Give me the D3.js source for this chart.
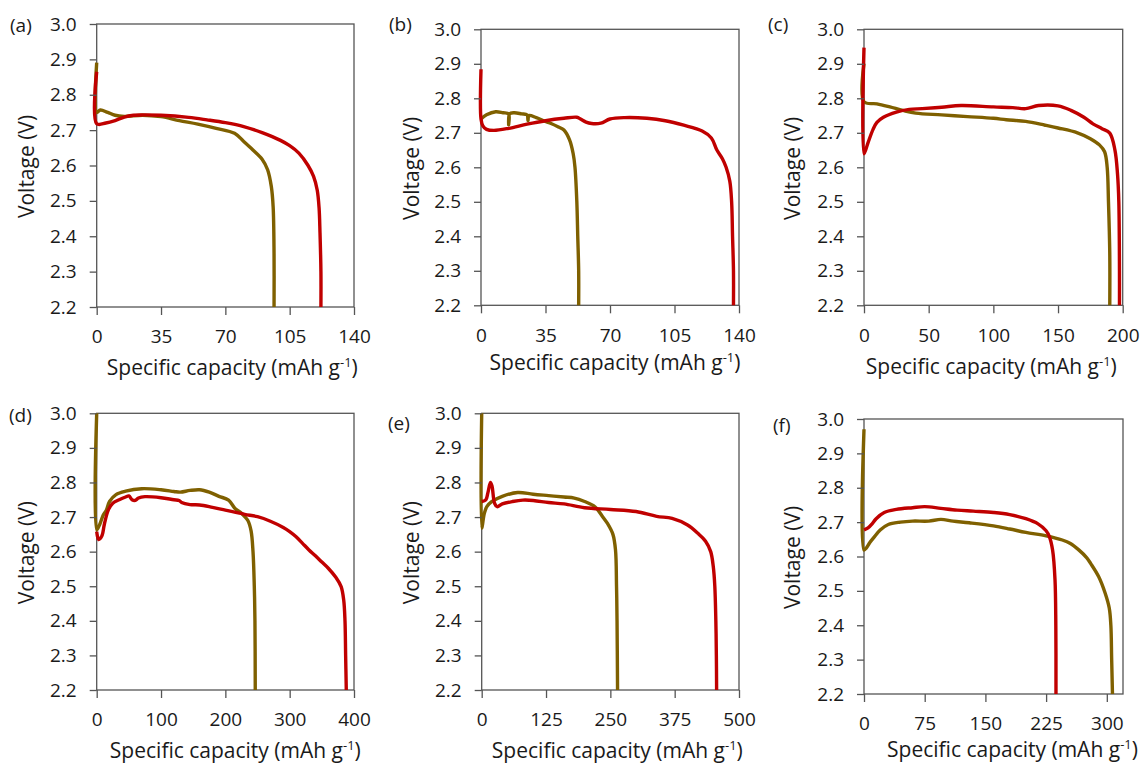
<!DOCTYPE html>
<html>
<head>
<meta charset="utf-8">
<script src="https://cdn.jsdelivr.net/npm/d3@7"></script>
<style>
  body { margin: 0; background: #fff; }
  text { font-family: "Open Sans", "Noto Sans", sans-serif; fill: #1a1a1a; }
</style>
</head>
<body>
<svg width="1143" height="764"></svg>
<script>
const svg = d3.select("svg");

const redColor = "#c00000";
const oliveColor = "#7f6000";

// voltage ticks shared by all panels
const voltTicks = [2.2, 2.3, 2.4, 2.5, 2.6, 2.7, 2.8, 2.9, 3.0];

// capacity ticks for each panel
const capTicksA = [0, 35, 70, 105, 140];
const capTicksB = [0, 35, 70, 105, 140];
const capTicksC = [0, 50, 100, 150, 200];
const capTicksD = [0, 100, 200, 300, 400];
const capTicksE = [0, 125, 250, 375, 500];
const capTicksF = [0, 75, 150, 225, 300];

// discharge curves, [capacity (mAh/g), voltage (V)]
const redA = [[0,2.865],[0,2.718],[5,2.72],[10,2.727],[15,2.737],[20,2.742],[25,2.743],[35,2.742],[50,2.736],[60,2.729],[70,2.721],[80,2.71],[90,2.693],[100,2.671],[105,2.656],[110,2.635],[115,2.60],[118,2.569],[120,2.53],[121,2.48],[121.5,2.41],[122,2.3],[122,2.2]];
const oliveA = [[0,2.891],[0,2.75],[2,2.757],[6,2.75],[10,2.742],[15,2.739],[25,2.742],[35,2.738],[45,2.727],[55,2.717],[65,2.705],[75,2.691],[80,2.668],[85,2.644],[90,2.618],[93,2.588],[95,2.541],[96,2.484],[96.5,2.35],[96.5,2.2]];

const redB = [[0,2.884],[0,2.74],[1,2.72],[3,2.71],[7,2.707],[15,2.713],[25,2.725],[35,2.735],[45,2.742],[52,2.745],[54,2.74],[57,2.731],[60,2.727],[65,2.728],[70,2.74],[78,2.744],[90,2.742],[100,2.735],[110,2.722],[120,2.705],[125,2.685],[128,2.65],[131,2.625],[133,2.6],[135,2.56],[136,2.5],[136.5,2.4],[137,2.3],[137,2.2]];
const oliveB = [[0,2.74],[3,2.752],[8,2.761],[12,2.758],[15,2.755],[15,2.723],[15.5,2.755],[18,2.758],[22,2.755],[25,2.752],[25.5,2.735],[26,2.75],[30,2.744],[35,2.733],[38,2.727],[42,2.717],[45,2.708],[48,2.68],[50,2.64],[51,2.6],[52,2.5],[52.5,2.4],[53,2.3],[53,2.2]];

const redC = [[0,2.947],[0,2.639],[3,2.67],[7,2.71],[10,2.73],[15,2.745],[25,2.76],[35,2.768],[45,2.77],[60,2.774],[75,2.779],[100,2.775],[115,2.773],[125,2.77],[135,2.779],[150,2.778],[160,2.765],[170,2.745],[177,2.726],[184,2.712],[190,2.699],[194,2.65],[196,2.58],[197,2.5],[197.5,2.3],[197.5,2.2]];
const oliveC = [[0,2.901],[0,2.79],[10,2.784],[20,2.775],[30,2.765],[40,2.757],[60,2.752],[80,2.747],[100,2.742],[110,2.738],[125,2.733],[140,2.722],[150,2.714],[165,2.7],[175,2.683],[182,2.665],[186,2.645],[188,2.6],[189,2.5],[190,2.35],[190,2.2]];

const redD = [[0,2.658],[3,2.635],[8,2.645],[12,2.68],[18,2.72],[25,2.74],[35,2.75],[45,2.758],[50,2.761],[55,2.75],[60,2.748],[65,2.755],[75,2.759],[100,2.756],[120,2.75],[128,2.748],[132,2.742],[145,2.736],[160,2.735],[180,2.728],[200,2.72],[230,2.708],[250,2.701],[270,2.688],[290,2.67],[300,2.658],[310,2.643],[320,2.624],[330,2.605],[340,2.588],[350,2.57],[360,2.552],[372,2.525],[380,2.499],[384,2.46],[386,2.4],[387,2.3],[388,2.2]];
const oliveD = [[0,3.0],[0,2.663],[5,2.68],[10,2.705],[15,2.72],[20,2.745],[30,2.765],[45,2.775],[70,2.782],[100,2.779],[120,2.774],[130,2.772],[145,2.777],[160,2.779],[175,2.772],[190,2.76],[205,2.749],[215,2.725],[225,2.711],[235,2.69],[240,2.66],[243,2.6],[245,2.5],[246,2.4],[246.5,2.2]];

const redE = [[0,2.745],[8,2.75],[12,2.77],[17,2.8],[20,2.79],[25,2.74],[30,2.73],[40,2.738],[60,2.745],[80,2.749],[100,2.748],[130,2.742],[160,2.738],[200,2.727],[250,2.722],[300,2.716],[340,2.702],[370,2.696],[400,2.677],[420,2.653],[435,2.63],[445,2.6],[450,2.557],[453,2.5],[455,2.4],[456,2.3],[456.5,2.2]];
const oliveE = [[0,3.0],[0,2.668],[5,2.71],[10,2.73],[20,2.745],[40,2.76],[70,2.771],[100,2.766],[130,2.762],[160,2.758],[180,2.755],[200,2.745],[220,2.73],[235,2.701],[245,2.68],[255,2.65],[260,2.605],[262,2.5],[263,2.4],[264,2.2]];

const redF = [[0,2.677],[5,2.683],[10,2.695],[15,2.71],[25,2.728],[40,2.737],[60,2.742],[75,2.745],[95,2.74],[115,2.735],[135,2.732],[160,2.728],[180,2.722],[200,2.71],[215,2.695],[225,2.675],[229,2.658],[233,2.619],[236,2.532],[237,2.4],[237.2,2.2]];
const oliveF = [[0,2.97],[0,2.619],[3,2.625],[7,2.64],[12,2.655],[20,2.677],[30,2.693],[45,2.7],[60,2.703],[80,2.703],[95,2.708],[110,2.703],[130,2.698],[160,2.689],[180,2.68],[200,2.67],[225,2.66],[245,2.648],[255,2.638],[265,2.62],[275,2.597],[280,2.58],[290,2.541],[298,2.493],[303,2.45],[305,2.4],[306,2.3],[307,2.2]];

// panel placement (plot box in page pixels)
const panels = [
  { tag: "(a)", ticks: capTicksA, xMax: 140, series: [oliveA, redA], box: [96.7, 24, 354, 307],   tagPos: [10, 25],   yTitleX: 27,  xTitleDx: 7,  xTitleDy: 68 },
  { tag: "(b)", ticks: capTicksB, xMax: 140, series: [oliveB, redB], box: [481, 29.3, 739, 305.3], tagPos: [389, 24],  yTitleX: 412, xTitleDx: 5,  xTitleDy: 65 },
  { tag: "(c)", ticks: capTicksC, xMax: 200, series: [oliveC, redC], box: [864, 29.3, 1122.7, 305.3], tagPos: [768, 24], yTitleX: 793, xTitleDx: -2, xTitleDy: 69 },
  { tag: "(d)", ticks: capTicksD, xMax: 400, series: [oliveD, redD], box: [96.7, 413.3, 354, 690], tagPos: [9, 415],  yTitleX: 27,  xTitleDx: 10, xTitleDy: 68 },
  { tag: "(e)", ticks: capTicksE, xMax: 500, series: [oliveE, redE], box: [481.7, 413.3, 739, 690], tagPos: [388, 423], yTitleX: 412, xTitleDx: 7,  xTitleDy: 68 },
  { tag: "(f)", ticks: capTicksF, xMax: 320, series: [oliveF, redF], box: [864, 419, 1123, 694],  tagPos: [773, 425], yTitleX: 793, xTitleDx: 19, xTitleDy: 63 }
];

const colors = [oliveColor, redColor];

drawPanel = p => {
  const [x0, y0, x1, y1] = p.box;
  const g = svg.append("g");

  const x = d3.scaleLinear().domain([0, p.xMax]).range([x0, x1]);
  const y = d3.scaleLinear().domain([2.2, 3.0]).range([y1, y0]);

  // frame
  g.append("rect")
    .attr("x", x0).attr("y", y0)
    .attr("width", x1 - x0).attr("height", y1 - y0)
    .attr("fill", "none")
    .attr("stroke", "#555")
    .attr("stroke-width", 1.3);

  // curves
  const line = d3.line()
    .x(d => x(d[0]))
    .y(d => y(d[1]))
    .curve(d3.curveCatmullRom.alpha(0.5));

  p.series.forEach((s, i) => {
    g.append("path")
      .datum(s)
      .attr("d", line)
      .attr("fill", "none")
      .attr("stroke", colors[i])
      .attr("stroke-width", 3.4)
      .attr("stroke-linejoin", "round");
  });

  // axes
  const yAxis = g.append("g")
    .attr("transform", `translate(${x0},0)`)
    .call(d3.axisLeft(y).tickValues(voltTicks).tickFormat(d3.format(".1f")).tickSize(7).tickPadding(13));
  const xAxis = g.append("g")
    .attr("transform", `translate(0,${y1})`)
    .call(d3.axisBottom(x).tickValues(p.ticks).tickSize(8).tickPadding(15));

  [yAxis, xAxis].forEach(a => {
    a.select(".domain").remove();
    a.selectAll("line").attr("stroke", "#555").attr("stroke-width", 1.3);
    a.selectAll("text")
      .style("font-family", '"Open Sans", sans-serif')
      .style("font-size", "19px")
      .attr("fill", "#1a1a1a");
  });

  // panel tag
  g.append("text")
    .attr("x", p.tagPos[0]).attr("y", p.tagPos[1])
    .attr("dy", "0.35em")
    .style("font-size", "19px")
    .text(p.tag);

  // y title
  g.append("text")
    .attr("transform", `translate(${p.yTitleX},${(y0 + y1) / 2 + 1}) rotate(-90)`)
    .attr("text-anchor", "middle")
    .attr("dy", "0.35em")
    .style("font-size", "21px")
    .text("Voltage (V)");

  // x title
  const t = g.append("text")
    .attr("x", (x0 + x1) / 2 + p.xTitleDx)
    .attr("y", y1 + p.xTitleDy)
    .attr("text-anchor", "middle")
    .style("font-size", "21px");
  t.append("tspan").text("Specific capacity (mAh g");
  t.append("tspan").attr("dy", -8).style("font-size", "13px").text("-1");
  t.append("tspan").attr("dy", 8).text(")");
};

panels.forEach(drawPanel);
</script>
</body>
</html>
